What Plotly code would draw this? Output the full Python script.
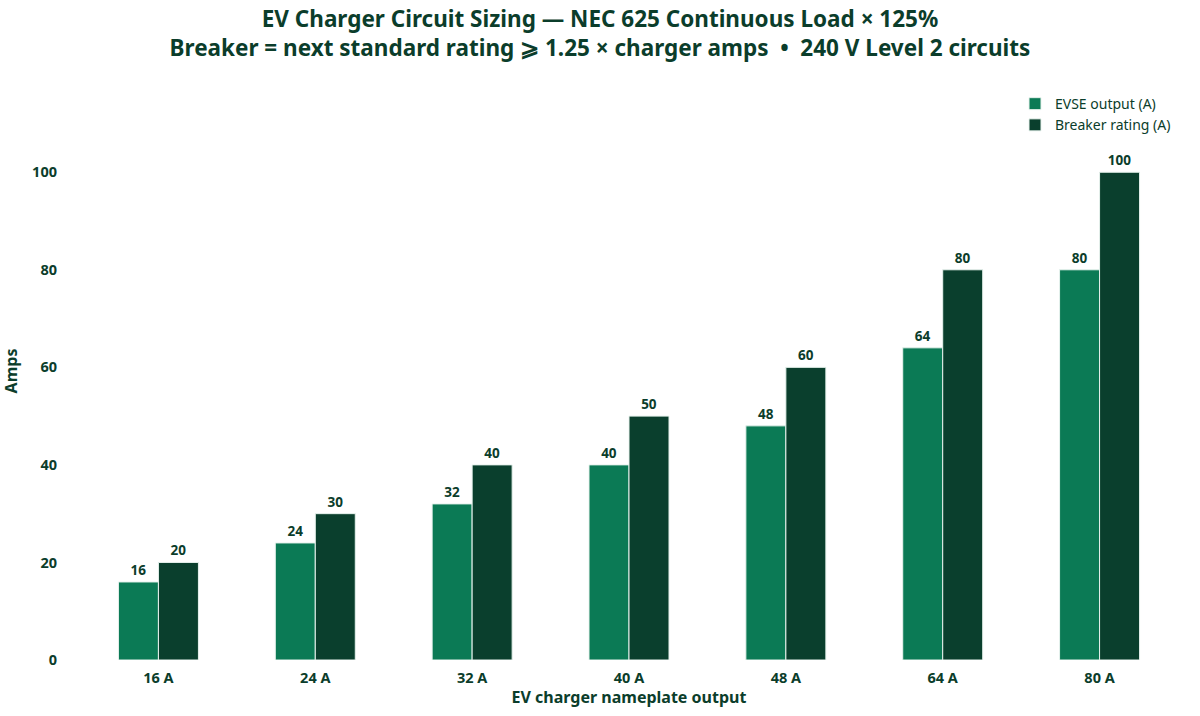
import plotly.graph_objects as go

# charger nameplate categories and amps
chargers = ["16 A", "24 A", "32 A", "40 A", "48 A", "64 A", "80 A"]
evse_output = [16, 24, 32, 40, 48, 64, 80]
breaker_rating = [20, 30, 40, 50, 60, 80, 100]

TXT = "#0b3d2b"
FONT = "'Noto Sans', sans-serif"

fig = go.Figure()
fig.add_trace(go.Bar(x=chargers, y=evse_output, name="EVSE output (A)",
                     marker=dict(color="#0b7a55", line=dict(color="#e8f3ee", width=1)),
                     text=evse_output, textposition="outside",
                     textfont=dict(color=TXT, size=13.5, family=FONT, weight="bold"),
                     cliponaxis=False))
fig.add_trace(go.Bar(x=chargers, y=breaker_rating, name="Breaker rating (A)",
                     marker=dict(color="#0a3f2d", line=dict(color="#e8f3ee", width=1)),
                     text=breaker_rating, textposition="outside",
                     textfont=dict(color=TXT, size=13.5, family=FONT, weight="bold"),
                     cliponaxis=False))

fig.update_layout(
    width=1200, height=716,
    paper_bgcolor="white", plot_bgcolor="white",
    font=dict(family=FONT, color=TXT, size=13),
    title=dict(text="<b>EV Charger Circuit Sizing — NEC 625 Continuous Load × 125%<br>"
                    "Breaker = next standard rating ⩾ 1.25 × charger amps  •  240 V Level 2 circuits</b>",
               x=0.5, xanchor="center", y=0.962, yanchor="top",
               font=dict(size=22.5, color=TXT, family=FONT)),
    barmode="group", bargap=0.49, bargroupgap=0,
    margin=dict(l=80, r=22, t=82, b=56, autoexpand=False),
    legend=dict(x=0.98, xanchor="right", xref="container",
                y=0.877, yanchor="top", yref="container",
                font=dict(size=14, color=TXT), bgcolor="rgba(0,0,0,0)",
                tracegroupgap=2),
    showlegend=True,
)
fig.update_xaxes(title=dict(text="<b>EV charger nameplate output</b>", standoff=4,
                            font=dict(size=16, color=TXT)),
                 tickfont=dict(size=14.5, color=TXT, weight="bold"),
                 showgrid=False, showline=False, ticks="", automargin=False,
                 ticklabelstandoff=7)
fig.update_yaxes(title=dict(text="<b>Amps</b>", standoff=14, font=dict(size=16, color=TXT)),
                 range=[0, 118.5], tickvals=[0, 20, 40, 60, 80, 100],
                 tickfont=dict(size=14.5, color=TXT, weight="bold"),
                 showgrid=False, zeroline=False, showline=False, ticks="",
                 ticklabelstandoff=22, automargin=False)

fig.write_html("out.html", config={"displayModeBar": False},
               post_script="document.body.style.margin='0';")
